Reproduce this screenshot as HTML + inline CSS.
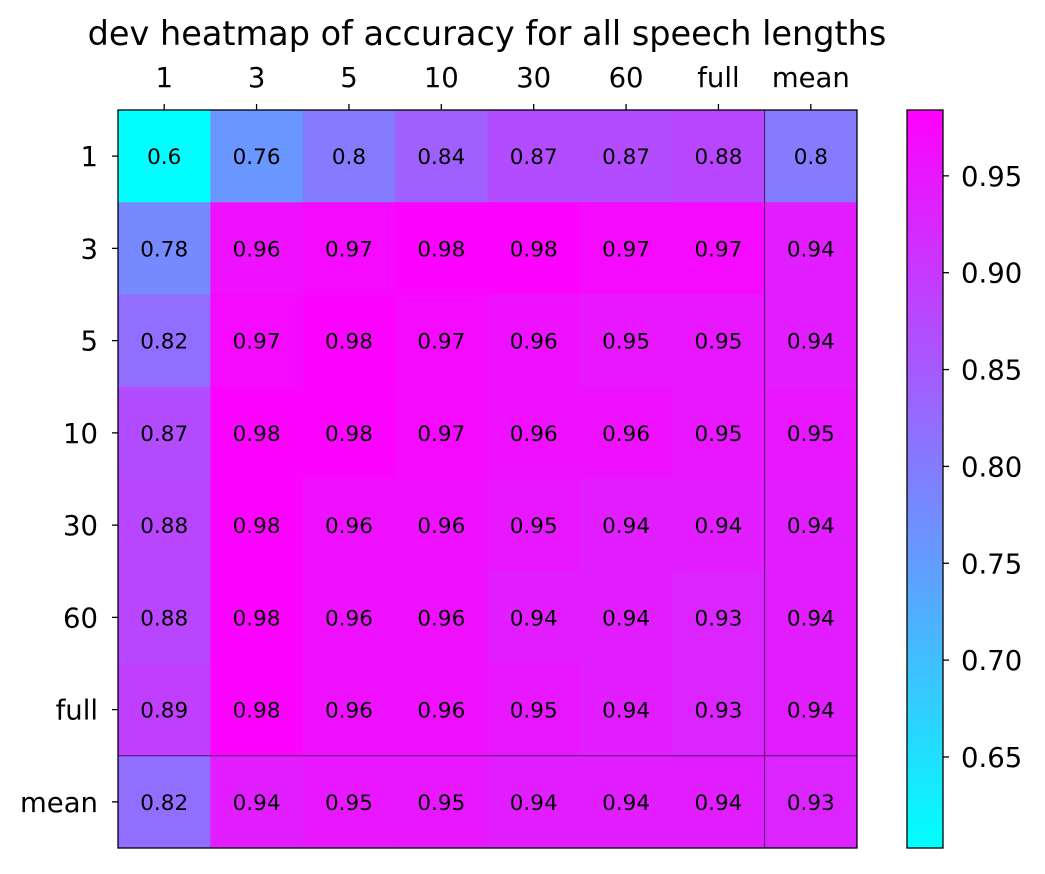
<!DOCTYPE html>
<html><head><meta charset="utf-8"><style>
body{margin:0;background:#fff;font-family:"Liberation Sans","DejaVu Sans",sans-serif;}
svg text{font-family:"DejaVu Sans","Liberation Sans",sans-serif;}
</style></head><body>
<svg id="chart" width="1045" height="869" xmlns="http://www.w3.org/2000/svg"></svg>
<script>
const rowLabels = ["1","3","5","10","30","60","full","mean"];
const colLabels = ["1","3","5","10","30","60","full","mean"];
const values = [
 [0.6,0.76,0.8,0.84,0.87,0.87,0.88,0.8],
 [0.78,0.96,0.97,0.98,0.98,0.97,0.97,0.94],
 [0.82,0.97,0.98,0.97,0.96,0.95,0.95,0.94],
 [0.87,0.98,0.98,0.97,0.96,0.96,0.95,0.95],
 [0.88,0.98,0.96,0.96,0.95,0.94,0.94,0.94],
 [0.88,0.98,0.96,0.96,0.94,0.94,0.93,0.94],
 [0.89,0.98,0.96,0.96,0.95,0.94,0.93,0.94],
 [0.82,0.94,0.95,0.95,0.94,0.94,0.94,0.93]
];
const cbTicks = [0.65,0.70,0.75,0.80,0.85,0.90,0.95];
const vmin = 0.603, vmax = 0.984;

const NS="http://www.w3.org/2000/svg";
const svg=document.getElementById('chart');
function mk(tag,attrs,parent){const e=document.createElementNS(NS,tag);for(const k in attrs)e.setAttribute(k,attrs[k]);(parent||svg).appendChild(e);return e;}
function cool(v){let t=(v-vmin)/(vmax-vmin);t=Math.max(0,Math.min(1,t));return `rgb(${Math.round(255*t)},${Math.round(255*(1-t))},255)`;}
const X0=118,X1=857,Y0=110,Y1=848;
const cw=(X1-X0)/colLabels.length, ch=(Y1-Y0)/rowLabels.length;
const xPos=j=>X0+j*cw, yPos=i=>Y0+i*ch;

const title=mk('text',{x:487,y:45,'text-anchor':'middle','font-size':33.5});
title.textContent="dev heatmap of accuracy for all speech lengths";



values.forEach((row,i)=>row.forEach((v,j)=>{
  const r=mk('rect',{x:xPos(j),y:yPos(i),width:cw+0.5,height:ch+0.5,fill:cool(v)});
  
  
  const t=mk('text',{x:xPos(j)+cw/2,y:yPos(i)+ch/2+8,'text-anchor':'middle','font-size':21.5});
  t.textContent=Number(v.toFixed(2)).toString();
  
  
}));
const vl=mk('line',{x1:xPos(7),x2:xPos(7),y1:Y0,y2:Y1,stroke:'#4a1060','stroke-width':1});


const hl=mk('line',{x1:X0,x2:X1,y1:yPos(7),y2:yPos(7),stroke:'#4a1060','stroke-width':1});


const fr=mk('rect',{x:X0,y:Y0,width:X1-X0,height:Y1-Y0,fill:'none',stroke:'#000','stroke-width':1.3});



colLabels.forEach((l,j)=>{
  const cx=xPos(j)+cw/2;
  mk('line',{x1:cx,x2:cx,y1:Y0,y2:Y0-6,stroke:'#000','stroke-width':1.3});
  const t=mk('text',{x:cx,y:87,'text-anchor':'middle','font-size':27.5});
  t.textContent=l;
  
  
});
rowLabels.forEach((l,i)=>{
  const cy=yPos(i)+ch/2;
  mk('line',{x1:X0,x2:X0-6,y1:cy,y2:cy,stroke:'#000','stroke-width':1.3});
  const t=mk('text',{x:X0-20,y:cy+10,'text-anchor':'end','font-size':27.5});
  t.textContent=l;
  
  
});

const CBX=907,CBW=36;
const defs=mk('defs',{});
const g=mk('linearGradient',{id:'cbg',x1:0,y1:1,x2:0,y2:0},defs);
mk('stop',{offset:0,'stop-color':cool(vmin)},g);
mk('stop',{offset:1,'stop-color':cool(vmax)},g);
const cb=mk('rect',{x:CBX,y:Y0,width:CBW,height:Y1-Y0,fill:'url(#cbg)',stroke:'#000','stroke-width':1.3});


const cbY=v=>Y1-(v-vmin)/(vmax-vmin)*(Y1-Y0);
cbTicks.forEach(v=>{
  const y=cbY(v);
  mk('line',{x1:CBX+CBW,x2:CBX+CBW+6,y1:y,y2:y,stroke:'#000','stroke-width':1.3});
  const t=mk('text',{x:CBX+CBW+18,y:y+10,'font-size':27.5});
  t.textContent=v.toFixed(2);
  
  
});
</script>
</body></html>
